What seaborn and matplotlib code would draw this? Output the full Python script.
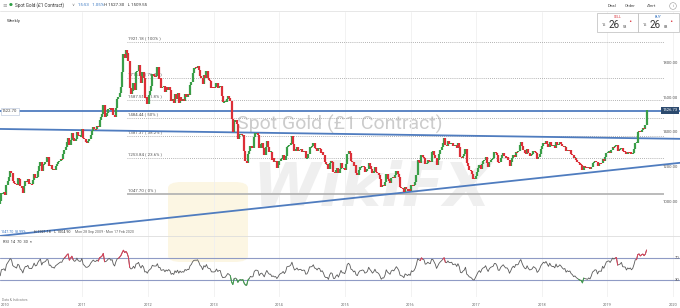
import numpy as np
import pandas as pd
import matplotlib
matplotlib.use("Agg")
import matplotlib.pyplot as plt
import matplotlib.dates as mdates
from matplotlib.patches import FancyBboxPatch, Rectangle
from matplotlib.lines import Line2D
import seaborn as sns

# ---------------- data (weekly closes, USD) ----------------
warmup_closes = [962, 938, 936, 941, 932, 912, 937, 953, 954, 957, 946, 942, 955, 996, 1007, 1010, 991]
closes_2009 = [1003, 1049, 1051, 1056, 1040, 1096, 1118, 1145, 1176, 1167, 1120, 1110, 1104]
closes_2010 = [1096, 1138, 1130, 1093, 1083, 1051, 1092, 1119, 1118, 1133, 1103, 1104, 1101,
               1124, 1161, 1137, 1142, 1179, 1208, 1227, 1176, 1213, 1218, 1228, 1257, 1256,
               1207, 1210, 1189, 1189, 1181, 1205, 1216, 1227, 1237, 1247, 1245, 1276, 1297,
               1317, 1345, 1368, 1326, 1358, 1394, 1367, 1353, 1362, 1405, 1385, 1379, 1380, 1421]
closes_2011 = [1369, 1360, 1343, 1341, 1348, 1360, 1388, 1409, 1429, 1420, 1419, 1436,
               1429, 1474, 1486, 1504, 1556, 1491, 1493, 1511, 1536, 1542, 1529, 1539, 1501,
               1486, 1542, 1592, 1601, 1628, 1663, 1745, 1852, 1828, 1877, 1857, 1812, 1656, 1624,
               1636, 1682, 1643, 1745, 1753, 1788, 1724, 1684, 1745, 1711, 1598, 1606, 1565]
closes_2012 = [1616, 1639, 1665, 1738, 1725, 1723, 1725, 1774, 1709, 1712, 1656, 1662, 1669,
               1631, 1659, 1642, 1663, 1644, 1579, 1592, 1572, 1622, 1591, 1626, 1572, 1604,
               1579, 1590, 1582, 1619, 1604, 1620, 1616, 1671, 1692, 1740, 1768, 1773, 1772,
               1780, 1757, 1724, 1712, 1676, 1730, 1714, 1751, 1711, 1702, 1697, 1658, 1657]
closes_2013 = [1656, 1661, 1686, 1658, 1667, 1667, 1609, 1573, 1576, 1577, 1592, 1607, 1596,
               1581, 1476, 1405, 1462, 1470, 1448, 1364, 1386, 1392, 1383, 1387, 1296, 1234,
               1223, 1278, 1295, 1322, 1310, 1313, 1375, 1395, 1395, 1387, 1308, 1333, 1338,
               1310, 1272, 1315, 1352, 1314, 1287, 1288, 1243, 1251, 1231, 1235, 1197, 1214]
closes_2014 = [1238, 1248, 1254, 1269, 1242, 1262, 1318, 1323, 1326, 1339, 1379, 1335, 1294,
               1303, 1318, 1294, 1301, 1302, 1288, 1293, 1292, 1250, 1253, 1274, 1316, 1316,
               1320, 1337, 1310, 1307, 1294, 1309, 1306, 1280, 1287, 1268, 1230, 1216, 1218,
               1192, 1222, 1238, 1231, 1171, 1169, 1186, 1196, 1167, 1192, 1222, 1195, 1195]
closes_2015 = [1186, 1216, 1277, 1293, 1279, 1234, 1228, 1204, 1213, 1165, 1153, 1182, 1199,
               1201, 1207, 1203, 1175, 1179, 1189, 1225, 1205, 1190, 1168, 1179, 1201, 1173,
               1168, 1157, 1131, 1085, 1095, 1093, 1113, 1159, 1134, 1121, 1108, 1137, 1145,
               1137, 1155, 1176, 1162, 1141, 1088, 1081, 1075, 1056, 1085, 1075, 1065, 1075]
closes_2016 = [1061, 1098, 1089, 1097, 1117, 1157, 1239, 1230, 1223, 1270, 1259, 1255, 1217,
               1222, 1243, 1235, 1231, 1290, 1291, 1272, 1252, 1213, 1243, 1276, 1298, 1316,
               1340, 1367, 1327, 1323, 1351, 1336, 1336, 1341, 1321, 1326, 1328, 1310, 1338, 1316,
               1257, 1252, 1267, 1276, 1304, 1225, 1209, 1183, 1177, 1160, 1134, 1133, 1152]
closes_2017 = [1173, 1196, 1210, 1190, 1220, 1234, 1239, 1257, 1226, 1201, 1229, 1243, 1249,
               1254, 1285, 1284, 1268, 1228, 1227, 1254, 1268, 1280, 1266, 1254, 1256, 1241,
               1209, 1228, 1254, 1269, 1258, 1289, 1285, 1291, 1325, 1346, 1320, 1297, 1280,
               1274, 1303, 1280, 1266, 1269, 1275, 1294, 1288, 1280, 1248, 1257, 1275, 1303]
closes_2018 = [1320, 1338, 1332, 1349, 1333, 1316, 1347, 1329, 1322, 1324, 1313, 1347, 1325,
               1332, 1345, 1336, 1323, 1314, 1319, 1291, 1301, 1294, 1298, 1278, 1269, 1251,
               1255, 1241, 1231, 1223, 1214, 1212, 1184, 1206, 1201, 1198, 1194, 1200, 1191,
               1203, 1222, 1227, 1234, 1232, 1209, 1222, 1223, 1222, 1248, 1238, 1257, 1280]
closes_2019 = [1286, 1289, 1282, 1298, 1318, 1314, 1322, 1328, 1294, 1298, 1302, 1313, 1292,
               1291, 1290, 1275, 1286, 1281, 1286, 1277, 1284, 1305, 1341, 1341, 1400, 1409,
               1400, 1415, 1426, 1419, 1440, 1526.73]

first_week = "2009-09-28"
year_ticks = ["2011", "2012", "2013", "2014", "2015", "2016", "2017", "2018", "2019", "2020"]
price_ticks = [1800, 1600, 1400, 1200, 1000]

fib_high, fib_low = 1921.18, 1047.70
fib_ratios = [1.0, 0.764, 0.618, 0.5, 0.382, 0.236, 0.0]
fib_labels = ["100%", "76.4%", "61.8%", "50%", "38.2%", "23.6%", "0%"]
fib_span = ["2011-09-07", "2019-11-10"]

hline_level = 1522.70
desc_line_dates = ["2009-09-28", "2020-02-17"]
desc_line_prices = [1420, 1363]
asc_line_dates = ["2009-09-28", "2020-02-17"]
asc_line_prices = [804, 1226]
last_price = 1526.73
rsi_levels = [70, 30]

# ---------------- derived ----------------
closes = np.array(closes_2009 + closes_2010 + closes_2011 + closes_2012 + closes_2013 +
                  closes_2014 + closes_2015 + closes_2016 + closes_2017 + closes_2018 +
                  closes_2019, dtype=float)
n = len(closes)
opens = np.r_[warmup_closes[-1], closes[:-1]]
dates = pd.date_range(first_week, periods=n, freq="7D") + pd.Timedelta(days=2)

allc = pd.Series(np.r_[warmup_closes, closes])
d = allc.diff()
ag = d.clip(lower=0).ewm(alpha=1 / 14, adjust=False).mean()
al = (-d.clip(upper=0)).ewm(alpha=1 / 14, adjust=False).mean()
rsi = (100 - 100 / (1 + ag / al)).values[-n:]

# ---------------- style ----------------
sns.set_theme(style="white")
plt.rcParams["font.family"] = ["Roboto", "DejaVu Sans"]

W, H = 680, 308
def fx(px): return px / W
def fy(py): return 1 - py / H

fig = plt.figure(figsize=(6.8, 3.08), dpi=100)
fig.patch.set_facecolor("white")

ax = fig.add_axes([0, fy(236), 1, (236 - 12) / H])
axr = fig.add_axes([0, fy(297), 1, (297 - 236) / H])
for a in (ax, axr):
    a.patch.set_alpha(0)
    for s in a.spines.values():
        s.set_visible(False)
    a.set_xticks([])
    a.set_yticks([])

xmin, xmax = pd.Timestamp("2009-09-29"), pd.Timestamp("2020-02-09")
ax.set_xlim(xmin, xmax)
axr.set_xlim(xmin, xmax)
ax.set_ylim(804, 2093)
axr.set_ylim(-0.9, 110)

green, red = "#3a9e48", "#dc2f38"
blue = "#4f7cbf"

# year gridlines
for y in year_ticks:
    for a in (ax, axr):
        a.axvline(pd.Timestamp(y + "-01-01"), color="#f0f0f0", lw=0.6, zorder=0)

# watermarks
fig.add_artist(FancyBboxPatch((fx(168), fy(262)), fx(80), (262 - 182) / H,
                              boxstyle="round,pad=0.0,rounding_size=0.02",
                              transform=fig.transFigure, facecolor="#fcf6e3",
                              edgecolor="none", zorder=-3))
fig.text(fx(372), fy(190), "WikiFX", fontsize=44, fontweight="bold", style="italic",
         color="#efefef", ha="center", va="center", zorder=-2, family="DejaVu Sans")
fig.text(fx(340), fy(124), "Spot Gold (£1 Contract)", fontsize=14, color="#cccccc",
         ha="center", va="center", zorder=-1)

# fib levels
fs, fe = pd.Timestamp(fib_span[0]), pd.Timestamp(fib_span[1])
for r, lab in zip(fib_ratios, fib_labels):
    lvl = fib_low + r * (fib_high - fib_low)
    if r == 0.0:
        ax.hlines(lvl, fs, fe, color="#b5b5b5", lw=1.3, zorder=1)
    else:
        ax.hlines(lvl, fs, fe, color="#9a9a9a", lw=0.6, linestyles=(0, (1, 1.5)), zorder=1)
    ax.text(fs + pd.Timedelta(days=5), lvl + 8, f"{lvl:.2f} ( {lab} )", fontsize=3.2,
            color="#555555", va="bottom", ha="left", zorder=2)

# blue trend lines
ax.axhline(hline_level, color=blue, lw=1.3, zorder=3)
sns.lineplot(x=pd.to_datetime(desc_line_dates), y=desc_line_prices, ax=ax, color=blue, lw=1.3, zorder=3)
sns.lineplot(x=pd.to_datetime(asc_line_dates), y=asc_line_prices, ax=ax, color=blue, lw=1.3, zorder=3)

# candles
lo = np.minimum(opens, closes)
hi = np.maximum(opens, closes)
mid = (lo + hi) / 2
lo = np.minimum(lo, mid - 3)
hi = np.maximum(hi, mid + 3)
up = closes >= opens
ax.vlines(dates[up], lo[up], hi[up], color=green, lw=1.6, zorder=4)
ax.vlines(dates[~up], lo[~up], hi[~up], color=red, lw=1.6, zorder=4)

# price labels (right, inside)
for p in price_ticks:
    ax.text(0.997, p, f"{p:.2f}", transform=ax.get_yaxis_transform(), fontsize=3.0,
            color="#555555", ha="right", va="center")
ax.text(0.997, last_price, f"{last_price:.2f}", transform=ax.get_yaxis_transform(),
        fontsize=3.0, color="white", ha="right", va="center", zorder=6,
        bbox=dict(boxstyle="square,pad=0.35", fc="#2c4a6e", ec="none"))
ax.text(0.003, hline_level, f"{hline_level:.2f}", transform=ax.get_yaxis_transform(),
        fontsize=3.0, color="#444444", ha="left", va="center", zorder=6,
        bbox=dict(boxstyle="square,pad=0.35", fc="white", ec="#b0c0d8", lw=0.4))

# RSI panel
for lv in rsi_levels:
    axr.axhline(lv, color="#8f9bc5", lw=0.8, zorder=1)
    axr.text(1.0, lv, f"{lv}", transform=axr.get_yaxis_transform(), fontsize=3.0,
             color="#555555", ha="right", va="center")
sns.lineplot(x=dates, y=rsi, ax=axr, color="#5a5a5a", lw=0.6, zorder=2)
hot = rsi > 70
hot = hot | np.r_[hot[1:], False] | np.r_[False, hot[:-1]]
cold = rsi < 30
cold = cold | np.r_[cold[1:], False] | np.r_[False, cold[:-1]]
axr.plot(dates, np.where(hot, rsi, np.nan), color="#e0405a", lw=0.7, zorder=3)
axr.plot(dates, np.where(cold, rsi, np.nan), color="#3fa34d", lw=0.7, zorder=3)

# separator lines
fig.add_artist(Line2D([0, 1], [fy(10.5)] * 2, color="#dddddd", lw=0.5))
fig.add_artist(Line2D([0, 1], [fy(236)] * 2, color="#dddddd", lw=0.6))

# year labels
for y in year_ticks:
    xp = ax.transData.transform((mdates.date2num(pd.Timestamp(y + "-01-01")), 0))[0]
    fig.text(xp / (fig.dpi * 6.8), fy(305), y, fontsize=2.8, color="#666666", ha="center", va="center")
fig.text(fx(5), fy(305), "2010", fontsize=2.8, color="#666666", ha="center", va="center")
fig.text(fx(2), fy(300), "Data & Indicators", fontsize=2.4, color="#888888", ha="left", va="center")

# header
fig.text(fx(2), fy(5), "≡", fontsize=4, color="#999999", va="center", family="DejaVu Sans")
fig.text(fx(9), fy(5), "●", fontsize=3.2, color="#2e9e44", va="center", family="DejaVu Sans")
fig.text(fx(15), fy(5), "Spot Gold (£1 Contract)", fontsize=3.3, color="#333333", va="center")
fig.text(fx(71), fy(5), "∨", fontsize=3.0, color="#777777", va="center", family="DejaVu Sans")
fig.text(fx(78), fy(5), "15:53   1.05%", fontsize=3.2, color="#3b78c2", va="center")
fig.text(fx(104), fy(5), "H 1527.30   L 1509.55", fontsize=3.2, color="#333333", va="center")
for t, xp in [("Deal", 612), ("Order", 630), ("Alert", 652)]:
    fig.text(fx(xp), fy(6), t, fontsize=3.2, color="#444444", ha="center", va="center")
fig.text(fx(673), fy(6), "i", fontsize=2.8, color="#777777", ha="center", va="center",
         bbox=dict(boxstyle="circle,pad=0.35", fc="white", ec="#999999", lw=0.4))
fig.text(fx(7), fy(21), "Weekly", fontsize=3.2, color="#333333", va="center")

# sell / buy boxes
for x0b, lab, col, frac in [(597, "SELL", "#d9363e", "58"), (638, "BUY", "#3b78c2", "88")]:
    fig.add_artist(Rectangle((fx(x0b), fy(32)), 41 / W, 19 / H, transform=fig.transFigure,
                             fc="white", ec="#bbbbbb", lw=0.5))
    fig.text(fx(x0b + 20.5), fy(16.5), lab, fontsize=2.6, color=col, ha="center", va="center")
    fig.text(fx(x0b + 7), fy(24.5), "15", fontsize=2.8, color="#444444", ha="center", va="center")
    fig.text(fx(x0b + 17), fy(25), "26", fontsize=7, color="#333333", ha="center", va="center")
    fig.text(fx(x0b + 28), fy(26.5), frac, fontsize=2.8, color="#444444", ha="center", va="center")
    fig.text(fx(x0b + 33), fy(22), "•", fontsize=4, color="#d9363e", ha="center", va="center",
             family="DejaVu Sans")

# info strip
fig.text(fx(1), fy(232), "1047.70", fontsize=2.6, color="#3b78c2", va="center")
fig.text(fx(15), fy(232), "53.99%", fontsize=2.6, color="#3b78c2", va="center")
fig.text(fx(34), fy(232), "H 1921.18    L 1004.90", fontsize=2.6, color="#333333", va="center")
fig.text(fx(75), fy(232), "Mon 28 Sep 2009 - Mon 17 Feb 2020", fontsize=2.6, color="#666666", va="center")
fig.text(fx(3), fy(242), "RSI  14  70  30  ×", fontsize=2.8, color="#333333", va="center")

fig.savefig("out.png", dpi=100, facecolor="white")
